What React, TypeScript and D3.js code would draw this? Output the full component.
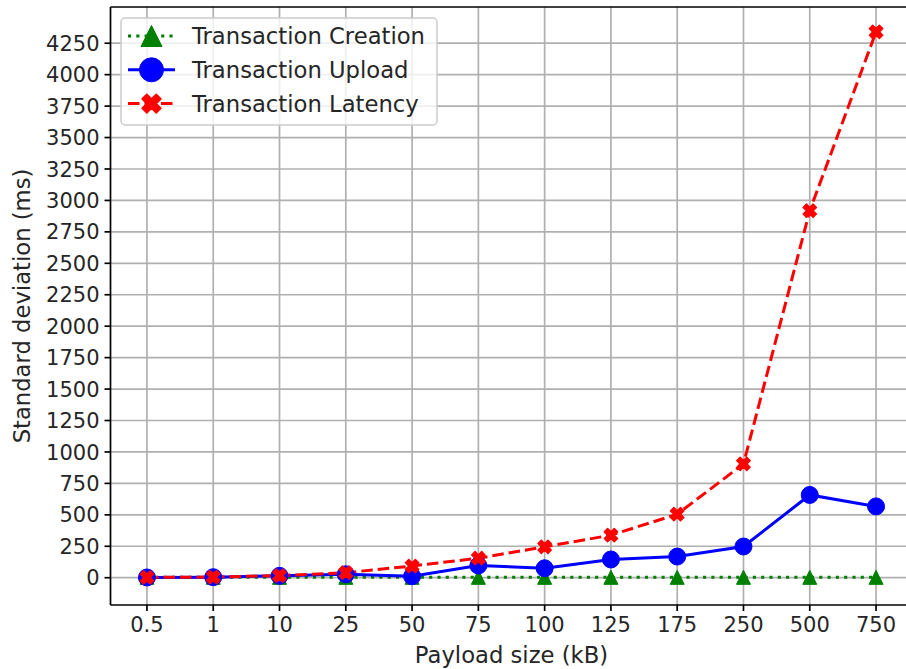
import React from "react";
import * as d3 from "d3";

const categories = ["0.5", "1", "10", "25", "50", "75", "100", "125", "175", "250", "500", "750"];
const creation = [3, 3, 3, 3, 3, 3, 3, 3, 3, 3, 3, 3];
const upload = [2, 4, 15, 27, 12, 97, 75, 145, 168, 248, 658, 567];
const latency = [2, 5, 17, 40, 93, 155, 246, 338, 505, 905, 2918, 4340];
const yTicks = d3.range(0, 4251, 250);

const W = 906;
const H = 669;
const FONT = "DejaVu Sans, sans-serif";

function triPath(s: number) {
  const h = s / 2;
  return `M0,${-h}L${h},${h}L${-h},${h}Z`;
}
function xPath(s: number) {
  const u = s / 3;
  const pts = [
    [u / 2, -u * 1.5], [u / 2, -u / 2], [u * 1.5, -u / 2], [u * 1.5, u / 2], [u / 2, u / 2], [u / 2, u * 1.5],
    [-u / 2, u * 1.5], [-u / 2, u / 2], [-u * 1.5, u / 2], [-u * 1.5, -u / 2], [-u / 2, -u / 2], [-u / 2, -u * 1.5],
  ];
  return "M" + pts.map((p) => p.join(",")).join("L") + "Z";
}

function Marker({ kind, color, size, x, y }: { kind: string; color: string; size: number; x: number; y: number }) {
  if (kind === "circle") return <circle cx={x} cy={y} r={size / 2} fill={color} stroke={color} strokeWidth={1} />;
  if (kind === "tri") return <path d={triPath(size)} transform={`translate(${x},${y})`} fill={color} stroke={color} strokeWidth={1} />;
  return <path d={xPath(size)} transform={`translate(${x},${y}) rotate(45)`} fill={color} stroke={color} strokeWidth={1.5} strokeLinejoin="round" />;
}

const series = [
  { name: "Transaction Creation", values: creation, color: "#008000", dash: "3.1 5.2", kind: "tri", size: 14, lsize: 21 },
  { name: "Transaction Upload", values: upload, color: "#0000ff", dash: "none", kind: "circle", size: 17, lsize: 24 },
  { name: "Transaction Latency", values: latency, color: "#ff0000", dash: "11.5 5", kind: "x", size: 14, lsize: 20 },
];

export default function App() {
  const left = 110.5, right = 912.5, top = 7, bottom = 605;
  const x = d3.scaleLinear().domain([-0.55, 11.55]).range([left, right]);
  const y = d3.scaleLinear().domain([-217, 4538]).range([bottom, top]);
  const line = (vals: number[]) =>
    d3.line<number>().x((_, i) => x(i)).y((d) => y(d))(vals) as string;

  return (
    <svg width={W} height={H} style={{ position: "absolute", left: 0, top: 0, background: "#fff" }} fontFamily={FONT}>
      <rect x={0} y={0} width={W} height={H} fill="#fff" />
      {/* grid */}
      {categories.map((c, i) => (
        <line key={"gx" + c} x1={x(i)} x2={x(i)} y1={top} y2={bottom} stroke="#b0b0b0" strokeWidth={1.7} />
      ))}
      {yTicks.map((t) => (
        <line key={"gy" + t} x1={left} x2={right} y1={y(t)} y2={y(t)} stroke="#b0b0b0" strokeWidth={1.7} />
      ))}
      {/* series lines */}
      {series.map((s) => (
        <path key={s.name} d={line(s.values)} fill="none" stroke={s.color} strokeWidth={3} strokeDasharray={s.dash} />
      ))}
      {series.map((s) => (
        <g key={s.name + "m"}>
          {s.values.map((v, i) => (
            <Marker key={i} kind={s.kind} color={s.color} size={s.size} x={x(i)} y={y(v)} />
          ))}
        </g>
      ))}
      {/* spines */}
      <line x1={left} x2={right} y1={top} y2={top} stroke="#000" strokeWidth={1.7} />
      <line x1={left} x2={right} y1={bottom} y2={bottom} stroke="#000" strokeWidth={1.7} />
      <line x1={left} x2={left} y1={top} y2={bottom} stroke="#000" strokeWidth={1.7} />
      {/* ticks */}
      {categories.map((c, i) => (
        <g key={"tx" + c}>
          <line x1={x(i)} x2={x(i)} y1={bottom} y2={bottom + 6} stroke="#000" strokeWidth={1.7} />
          <text x={x(i)} y={632} textAnchor="middle" fontSize={21} fill="#262626">{c}</text>
        </g>
      ))}
      {yTicks.map((t) => (
        <g key={"ty" + t}>
          <line x1={left - 6} x2={left} y1={y(t)} y2={y(t)} stroke="#000" strokeWidth={1.7} />
          <text x={99.5} y={y(t)} dy="0.36em" textAnchor="end" fontSize={21} fill="#262626">{t}</text>
        </g>
      ))}
      <text x={(left + right) / 2} y={663} textAnchor="middle" fontSize={22.7} fill="#262626">Payload size (kB)</text>
      <text transform={`translate(30,${(top + bottom) / 2}) rotate(-90)`} textAnchor="middle" fontSize={22.7} fill="#262626">Standard deviation (ms)</text>
      {/* legend */}
      <rect x={121} y={18} width={316} height={107} rx={4} fill="#fff" fillOpacity={0.8} stroke="#cccccc" strokeWidth={1.5} />
      {series.map((s, k) => {
        const ly = 36 + k * 33.8;
        return (
          <g key={s.name + "l"}>
            <line x1={128} x2={175} y1={ly} y2={ly} stroke={s.color} strokeWidth={3} strokeDasharray={s.dash} />
            <Marker kind={s.kind} color={s.color} size={s.lsize} x={151.5} y={ly} />
            <text x={192} y={ly} dy="0.36em" fontSize={22.7} fill="#262626">{s.name}</text>
          </g>
        );
      })}
    </svg>
  );
}
